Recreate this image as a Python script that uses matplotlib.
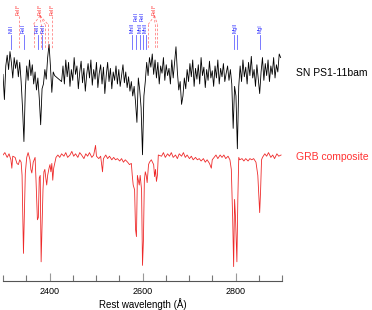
import numpy as np
import matplotlib
matplotlib.use('Agg')
import matplotlib.pyplot as plt
from matplotlib.ticker import FixedLocator, MultipleLocator

plt.rcParams['font.family'] = ['Liberation Sans', 'DejaVu Sans']

# SN PS1-11bam, normalised flux on a 3 A grid starting at 2300 A
sn_wave = np.arange(2300, 2900, 3)
sn_flux = [
    0.98, 0.77, 1.05, 1.14, 1.02, 1.17, 1.08, 0.95, 1.12, 1.03,
    1.10, 0.96, 1.08, 0.92, 0.70, 0.42, 0.85, 1.05, 0.93, 1.10,
    0.97, 1.06, 0.90, 1.00, 0.85, 0.95, 0.78, 0.56, 0.86, 0.90,
    1.02, 0.94, 1.12, 1.23, 1.05, 0.83, 1.00, 0.97, 0.96, 0.95,
    0.94, 0.93, 0.92, 1.05, 0.90, 1.10, 0.96, 1.08, 0.88, 1.02,
    0.93, 1.12, 0.98, 1.05, 0.86, 1.00, 1.09, 0.91, 1.03, 0.84,
    0.98, 1.07, 0.95, 1.10, 0.89, 1.02, 0.94, 1.08, 0.87, 0.99,
    1.06, 0.90, 1.04, 0.82, 0.97, 1.08, 0.92, 1.03, 0.86, 1.00,
    0.93, 1.05, 0.90, 1.02, 0.88, 0.97, 1.06, 0.91, 1.00, 0.87,
    0.96, 0.84, 0.92, 0.80, 0.88, 0.75, 0.58, 0.95, 0.85, 0.70,
    0.31, 0.80, 0.92, 1.08, 0.97, 1.12, 1.04, 1.15, 0.98, 1.10,
    0.95, 1.08, 0.90, 1.05, 0.99, 1.12, 0.93, 1.06, 0.97, 1.03,
    0.90, 1.10, 0.95, 1.08, 1.21, 1.00, 0.85, 0.92, 0.73, 0.80,
    0.95, 0.86, 1.02, 0.92, 1.07, 0.96, 1.10, 0.88, 1.03, 0.94,
    1.06, 0.90, 1.12, 0.97, 1.04, 0.87, 1.02, 0.93, 1.09, 0.95,
    1.01, 0.88, 1.05, 0.95, 1.10, 0.90, 1.03, 0.96, 1.07, 0.92,
    0.99, 1.05, 0.93, 1.02, 0.90, 0.53, 0.88, 0.80, 0.36, 0.88,
    1.05, 0.92, 1.10, 0.96, 1.04, 0.90, 1.08, 0.97, 1.13, 0.95,
    1.02, 0.88, 1.06, 0.94, 0.82, 1.00, 1.12, 0.93, 1.07, 0.97,
    1.10, 0.92, 1.05, 0.98, 1.12, 0.95, 1.06, 1.00, 1.15, 1.12,
]

# GRB composite, normalised flux
grb_wave = [
    2300, 2304, 2309, 2313, 2317, 2319, 2321, 2326, 2330, 2333, 2336, 2339,
    2341, 2344, 2346, 2348, 2351, 2354, 2358, 2360, 2362, 2365, 2367, 2369,
    2371, 2374, 2376, 2378, 2380, 2382, 2384, 2386, 2388, 2390, 2392, 2394,
    2396, 2399, 2401, 2403, 2405, 2407, 2409, 2414, 2418,
    2422, 2426, 2431, 2435, 2439, 2444, 2448, 2452, 2456, 2461, 2465, 2469,
    2474, 2478, 2482, 2486, 2491, 2495, 2499, 2501, 2506, 2510, 2514, 2516,
    2521, 2525, 2529, 2534, 2538, 2542, 2546, 2551, 2555, 2559, 2563, 2568,
    2572, 2576, 2578, 2580, 2583, 2585, 2587, 2589, 2591, 2593, 2595, 2598,
    2600, 2602, 2604, 2606, 2608, 2610, 2613, 2615, 2619, 2624, 2626, 2628,
    2630, 2632, 2634,
    2641, 2645, 2649, 2654, 2658, 2662, 2666, 2671, 2675, 2679, 2684, 2688,
    2692, 2696, 2701, 2705, 2709, 2714, 2718, 2722, 2726, 2731, 2735, 2739,
    2744, 2748, 2750, 2754, 2758, 2762, 2767, 2771, 2775, 2779, 2784, 2788,
    2791, 2794, 2796, 2798, 2800, 2803, 2805, 2807, 2809, 2814, 2818, 2822,
    2827, 2831, 2835, 2839, 2844, 2848, 2852, 2854, 2856, 2858, 2863, 2867,
    2871, 2876, 2880, 2884, 2889, 2893, 2898,
]
grb_flux = [
    1.00, 1.02, 0.98, 1.01, 0.96, 0.89, 0.99, 0.98, 0.93, 0.92, 0.96, 0.94,
    0.83, 0.18, 0.50, 0.85, 0.98, 1.02, 0.96, 0.88, 0.85, 0.94, 0.96, 0.98,
    0.79, 0.46, 0.48, 0.81, 0.83, 0.11, 0.40, 0.71, 0.86, 0.88, 0.81, 0.75,
    0.83, 0.89, 0.92, 0.86, 0.93, 0.79, 0.89, 0.98, 1.00,
    0.98, 1.01, 0.99, 1.02, 0.98, 1.00, 1.03, 0.99, 1.01, 0.98, 1.02, 1.00,
    0.97, 1.01, 0.99, 1.02, 0.98, 1.00, 1.08, 0.99, 0.97, 0.99, 0.86, 0.97,
    1.00, 0.97, 0.99, 0.96, 0.98, 0.96, 0.97, 0.95, 0.97, 0.94, 0.96, 0.94,
    0.92, 0.93, 0.83, 0.75, 0.71, 0.38, 0.32, 0.83, 0.79, 0.75, 0.83, 0.71,
    0.08, 0.29, 0.79, 0.86, 0.83, 0.77, 0.92, 0.94, 0.96, 0.92, 0.82, 0.88,
    0.78, 0.83, 1.00,
    0.99, 1.02, 0.98, 1.01, 0.99, 1.02, 0.98, 1.00, 0.97, 1.01, 0.99, 1.02,
    0.98, 1.00, 0.97, 0.99, 0.96, 0.98, 0.96, 0.97, 0.95, 0.97, 0.94, 0.96,
    0.93, 0.89, 0.96, 0.98, 1.00, 0.97, 1.00, 0.98, 1.00, 0.97, 0.99, 0.96,
    0.88, 0.46, 0.07, 0.63, 0.48, 0.11, 0.63, 0.98, 0.96, 0.97, 0.95, 0.97,
    0.95, 0.97, 0.96, 0.97, 0.94, 0.83, 0.52, 0.71, 0.96, 0.98, 1.01, 0.99,
    1.02, 0.98, 1.00, 0.97, 1.01, 0.99, 1.00,
]

# resonance lines (blue)
res_wave = [2316.7, 2344.2, 2374.5, 2382.8, 2576.9, 2586.6, 2594.5, 2600.2,
            2606.5, 2796.4, 2803.5, 2852.1]
# blue labels -- row 0 lower, row 1 upper
res_label_wave = [2316.7, 2344.2, 2373.0, 2386.0, 2576.9, 2586.6, 2594.5,
                  2600.2, 2606.5, 2800.0, 2852.1]
res_label = ['NiII', 'FeII', 'FeII', 'FeII', 'MnII', 'FeII', 'MnII', 'FeII',
             'MnII', 'MgII', 'MgI']
res_row = [0, 0, 0, 0, 0, 1, 0, 1, 0, 0, 0]

# fine-structure groups (red), label position and member lines
fs_label = [2333.5, 2380.0, 2405.6, 2626.0]
fs_groups = [[2333.5], [2365.6, 2381.5, 2389.4, 2396.4], [2405.6],
             [2612.6, 2626.5, 2632.1]]

sn_offset = 0.692

fig = plt.figure(figsize=(3.72, 3.10), dpi=100)
ax = fig.add_axes([3 / 372, 29 / 310, 279 / 372, 281 / 310])

ax.plot(sn_wave, np.array(sn_flux) + sn_offset, color='black', lw=0.6)
ax.plot(grb_wave, grb_flux, color='#ee2a2a', lw=0.6)

blue = '#2222ff'
red = '#ff3333'
for w in res_wave:
    ax.plot([w, w], [1.883, 2.0], color=blue, lw=0.6, alpha=0.7)
for w, name, row in zip(res_label_wave, res_label, res_row):
    ybase = 2.017 if row == 0 else 2.117
    ax.text(w, ybase, name, rotation=90, fontsize=3.8, color=blue,
            ha='center', va='bottom')

dash = (0, (3, 2))
for lab, grp in zip(fs_label, fs_groups):
    ax.text(lab, 2.17, 'FeII*', rotation=90, fontsize=3.8, color=red,
            ha='center', va='bottom')
    for w in grp:
        if len(grp) > 1:
            ax.plot([lab, w], [2.16, 2.09], color=red, lw=0.6, ls=dash,
                    alpha=0.6)
            ax.plot([w, w], [2.09, 1.883], color=red, lw=0.6, ls=dash,
                    alpha=0.6)
        else:
            ax.plot([w, w], [2.16, 1.883], color=red, lw=0.6, ls=dash,
                    alpha=0.6)

ax.set_xlim(2300, 2900)
ax.set_ylim(-0.05, 2.2917)
for s in ['left', 'right', 'top']:
    ax.spines[s].set_visible(False)
ax.spines['bottom'].set_color('#555555')
ax.spines['bottom'].set_linewidth(0.8)
ax.set_yticks([])
ax.xaxis.set_major_locator(FixedLocator([2400, 2600, 2800]))
ax.xaxis.set_minor_locator(MultipleLocator(50))
ax.tick_params(axis='x', which='major', direction='in', length=6, width=0.8,
               color='#999999', labelsize=6.5, pad=4)
ax.tick_params(axis='x', which='minor', direction='in', length=4, width=0.8,
               color='#777777')
ax.set_xlabel('Rest wavelength (\u00c5)', fontsize=7, labelpad=2)

fig.text(296 / 372, 1 - 73 / 310, 'SN PS1-11bam', fontsize=7.5,
         color='black', va='center', ha='left')
fig.text(296 / 372, 1 - 157 / 310, 'GRB composite', fontsize=7.5,
         color=red, va='center', ha='left')

fig.savefig('out.png', dpi=100)
